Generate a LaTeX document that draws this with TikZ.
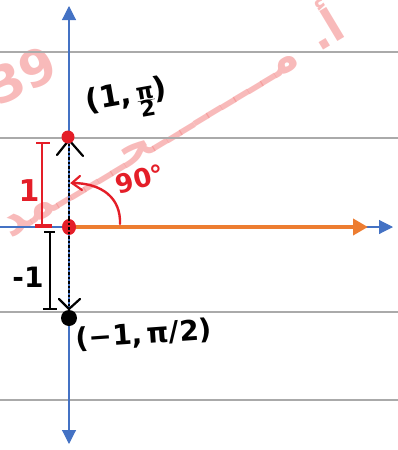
\documentclass[tikz,border=0pt]{standalone}
\usepackage{fontspec}
\usetikzlibrary{arrows.meta,shapes.geometric}
\TeXXeTstate=1
\newfontfamily\arabicfont[Script=Arabic]{DejaVu Sans}
\newfontfamily\hand{DejaVu Sans}
\definecolor{axblue}{RGB}{68,114,196}
\definecolor{orng}{RGB}{237,125,49}
\definecolor{rd}{RGB}{228,30,40}
\definecolor{pink}{RGB}{244,140,140}
\definecolor{gline}{RGB}{170,170,170}
\begin{document}
\begin{tikzpicture}[x=1pt,y=-1pt,
  grid/.style={gline,line width=1.4pt},
  axis/.style={axblue,line width=1.1pt,-{Triangle[length=14pt,width=14pt]}},
  vec/.style={orng,line width=4pt,-{Triangle[length=15pt,width=16pt]}},
  dots/.style={black,line width=1.8pt,dash pattern=on 2.5pt off 2pt},
  hw/.style={inner sep=0pt,font=\hand\bfseries\fontsize{30}{32}\selectfont},
  wm/.style={pink,opacity=0.6,font=\arabicfont\bfseries\fontsize{46}{50}\selectfont}]
\useasboundingbox (0,0) rectangle (398,450);
% watermark
\node[wm,rotate=31] (wmA) at (168,118) {\beginR أ. مـــــــــحـــــمد\endR};
\node[wm,rotate=25,font=\hand\bfseries\fontsize{50}{54}\selectfont] (wmB) at (22,75) {39};
% grid lines
\foreach \yy in {52,138,312,400} \draw[grid] (0,\yy) -- (398,\yy);
% axes
\coordinate (O) at (69,227);
\coordinate (xl) at (0,227);
\coordinate (xr) at (393,227);
\coordinate (yb) at (69,444);
\coordinate (yt) at (69,6);
\draw[axis] (xl) -- (xr);
\draw[axis] (O) -- (yt);
\draw[axis] (O) -- (yb);
% orange vector
\coordinate (vend) at (368,227);
\draw[vec] (O) -- (vend);
% dotted lines
\coordinate (ptop) at (69,140);
\coordinate (pbot) at (69,309);
\draw[dots] (O) -- (ptop);
\draw[dots] (O) -- (pbot);
\draw[black,line width=2.2pt,line cap=round] (57,155) -- (ptop) -- (83,156);
\draw[black,line width=2.2pt,line cap=round] (59,299) -- (pbot) -- (80,299);
% points
\node[circle,fill=rd,inner sep=0pt,minimum size=13pt] (P1) at (68,137) {};
\node[ellipse,fill=rd,inner sep=0pt,minimum width=14pt,minimum height=16pt] (P0) at (O) {};
\draw[dots] (69,218) -- (69,236);
\node[circle,fill=black,inner sep=0pt,minimum size=16pt] (P2) at (69,318) {};
% labels
\node[hw,rotate=10] (L1) at (128,104) {(1,\,\raisebox{-0.3\height}{\fontsize{22}{22}\selectfont\begin{tabular}{@{}c@{}}π\\[-5pt]\hline 2\end{tabular}})};
\node[hw,rotate=4,font=\hand\bfseries\fontsize{28}{30}\selectfont] (L2) at (144,335) {(−1,\,π/2)};
% red bracket
\draw[rd,line width=2.4pt] (36,143) -- (50,143);
\draw[rd,line width=2.4pt] (42,143) -- (42,226);
\draw[rd,line width=4pt] (35,226) -- (52,226);
\node[rd,font=\hand\bfseries\fontsize{30}{32}\selectfont] (lab1) at (29,191) {1};
% black bracket
\draw[black,line width=2pt] (44,232) -- (55,232);
\draw[black,line width=2pt] (50,232) -- (50,309);
\draw[black,line width=2pt] (43,309) -- (57,309);
\node[font=\hand\bfseries\fontsize{28}{30}\selectfont] (lab2) at (28,277) {-1};
% angle arc
\coordinate (a0) at (120,224);
\coordinate (a1) at (72,183);
\draw[rd,line width=2.4pt,line cap=round] (a0) .. controls (121,198) and (102,183) .. (a1);
\draw[rd,line width=2.2pt,line cap=round] (80,176) -- (a1) -- (82,190);
\node[rd,font=\hand\bfseries\fontsize{26}{28}\selectfont,rotate=15] (ang) at (140,179) {90°};
\end{tikzpicture}
\end{document}
